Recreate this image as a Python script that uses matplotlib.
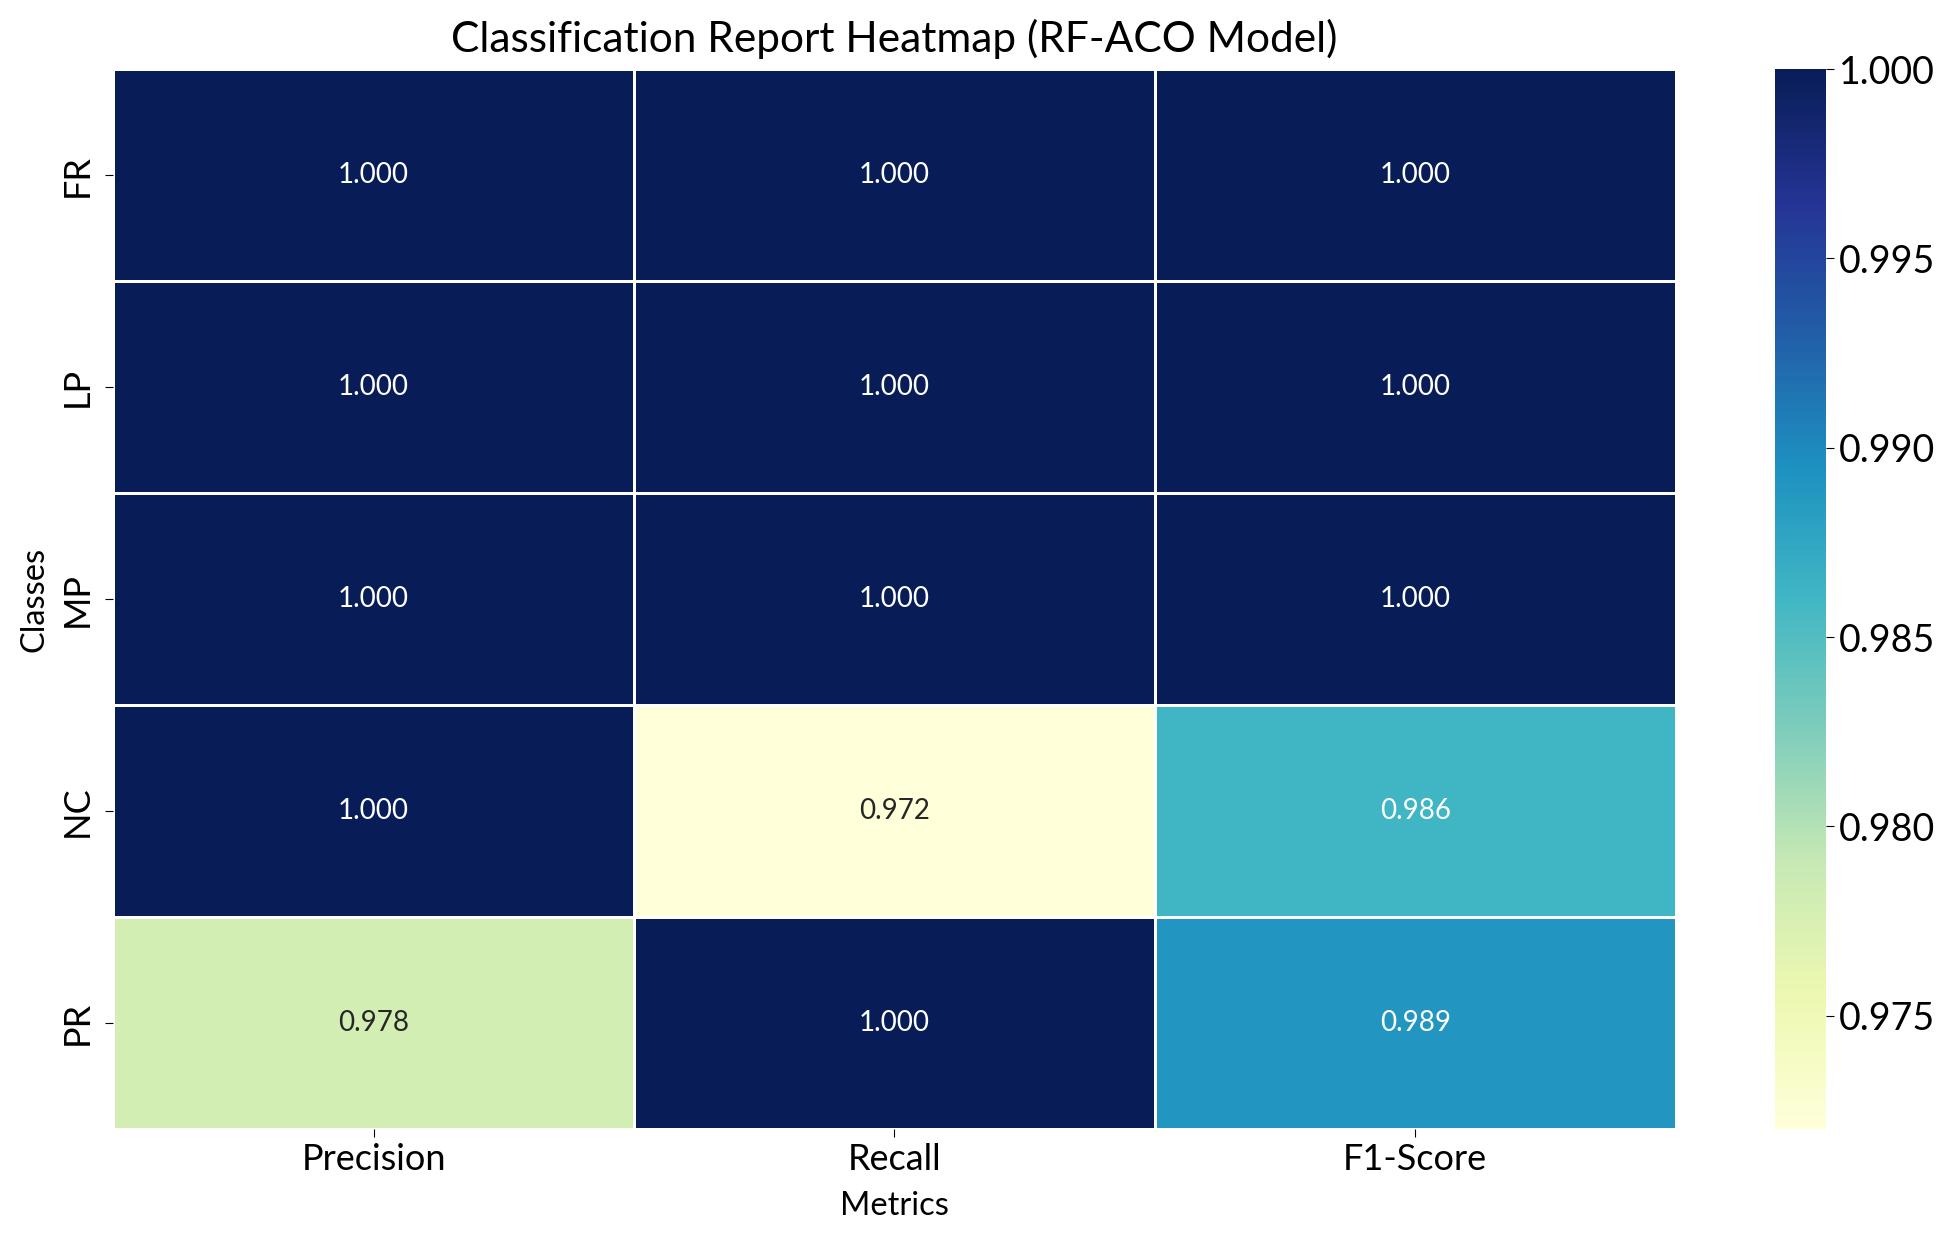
import matplotlib
matplotlib.use("Agg")
import matplotlib.pyplot as plt
import seaborn as sns
import numpy as np
import pandas as pd

classes = ["FR", "LP", "MP", "NC", "PR"]
metrics = ["Precision", "Recall", "F1-Score"]
precision = [1.000, 1.000, 1.000, 1.000, 0.978]
recall = [1.000, 1.000, 1.000, 0.972, 1.000]
f1_score = [1.000, 1.000, 1.000, 0.986, 0.989]

plt.rcParams['font.family'] = ['Lato', 'DejaVu Sans']

df = pd.DataFrame({"Precision": precision, "Recall": recall, "F1-Score": f1_score},
                  index=classes)[metrics]

fig = plt.figure(figsize=(19.53, 12.33), dpi=100)
ax = fig.add_axes([0.058, 0.084, 0.800, 0.860])
cax = fig.add_axes([0.909, 0.084, 0.026, 0.860])

sns.heatmap(df, annot=True, fmt=".3f", cmap="YlGnBu", linewidths=1.0, linecolor="white",
            ax=ax, cbar_ax=cax, annot_kws={"fontsize": 20})

ax.set_title("Classification Report Heatmap (RF-ACO Model)", fontsize=30.5, pad=12)
ax.set_xlabel("Metrics", fontsize=23.5, labelpad=11)
ax.set_ylabel("Classes", fontsize=23.5, labelpad=8)
ax.tick_params(axis='x', labelsize=26, length=6)
ax.tick_params(axis='y', labelsize=26, length=6, pad=8)
plt.setp(ax.get_yticklabels(), rotation=90, va='center')
cax.tick_params(labelsize=27, length=6)
cax.set_yticks([0.975, 0.980, 0.985, 0.990, 0.995, 1.000])
cax.set_yticklabels(["0.975", "0.980", "0.985", "0.990", "0.995", "1.000"])

fig.savefig("out.png", dpi=100)
